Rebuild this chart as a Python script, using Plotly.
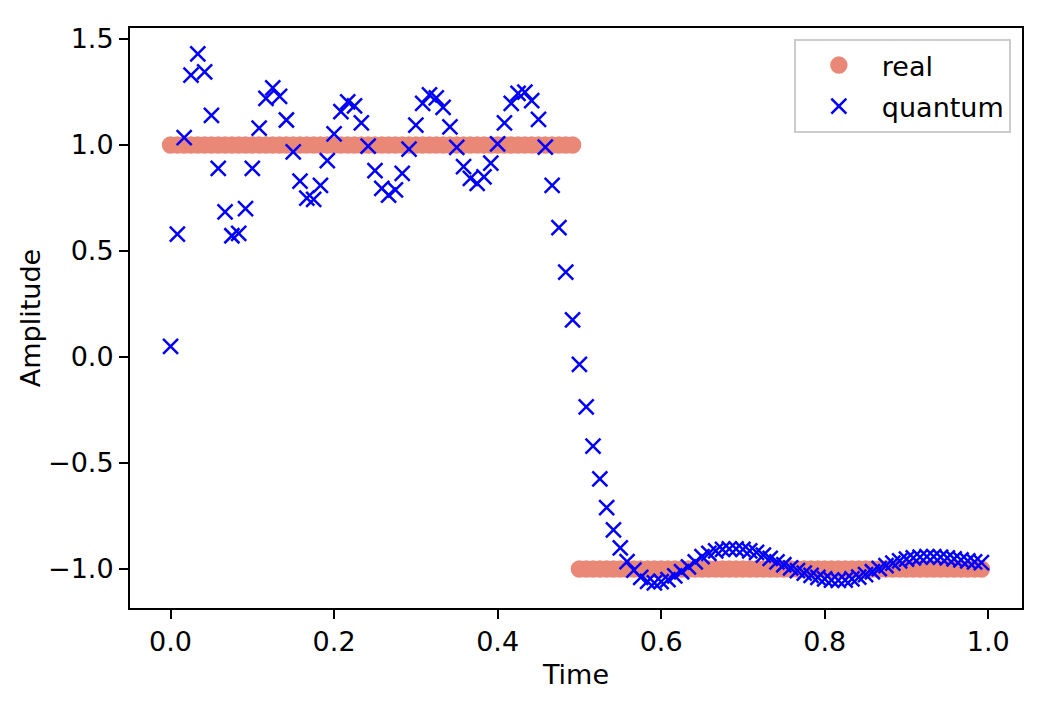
import plotly.graph_objects as go

# ---- data ----
n_samples = 120
time = [i / n_samples for i in range(n_samples)]

real = [1.0] * 60 + [-1.0] * 60

quantum = [
    0.05, 0.58, 1.035, 1.33, 1.43, 1.345, 1.14, 0.89, 0.685, 0.572,
    0.583, 0.70, 0.89, 1.08, 1.22, 1.27, 1.23, 1.118, 0.968, 0.83,
    0.75, 0.744, 0.81, 0.926, 1.053, 1.157, 1.204, 1.185, 1.105, 0.995,
    0.879, 0.796, 0.764, 0.788, 0.866, 0.981, 1.094, 1.197, 1.236, 1.222,
    1.178, 1.086, 0.989, 0.898, 0.843, 0.819, 0.85, 0.915, 1.005, 1.104,
    1.197, 1.244, 1.25, 1.209, 1.121, 0.99, 0.81, 0.61, 0.40, 0.175,
    -0.035, -0.235, -0.42, -0.575, -0.71, -0.815, -0.90, -0.965, -1.005, -1.04,
    -1.058, -1.065, -1.06, -1.05, -1.033, -1.013, -0.99, -0.966, -0.942, -0.926,
    -0.915, -0.908, -0.905, -0.905, -0.908, -0.915, -0.922, -0.935, -0.95, -0.966,
    -0.98, -0.995, -1.008, -1.02, -1.03, -1.04, -1.047, -1.052, -1.054, -1.052,
    -1.047, -1.038, -1.027, -1.013, -0.998, -0.984, -0.972, -0.962, -0.954, -0.948,
    -0.944, -0.942, -0.942, -0.944, -0.948, -0.952, -0.957, -0.962, -0.966, -0.97,
]

x_ticks = [0.0, 0.2, 0.4, 0.6, 0.8, 1.0]
x_ticklabels = ["0.0", "0.2", "0.4", "0.6", "0.8", "1.0"]
y_ticks = [1.5, 1.0, 0.5, 0.0, -0.5, -1.0]
y_ticklabels = ["1.5", "1.0", "0.5", "0.0", "\u22120.5", "\u22121.0"]

# ---- style ----
REAL_COLOR = "#EA8877"
QUANT_COLOR = "#0000FF"
FONT = "DejaVu Sans"
FS = 27

fig = go.Figure()
fig.add_trace(go.Scatter(
    x=time, y=real, mode="markers", name="real", legendgroup="a",
    marker=dict(symbol="circle", size=15, color=REAL_COLOR,
                line=dict(color=REAL_COLOR, width=2.5)),
))
fig.add_trace(go.Scatter(
    x=time, y=quantum, mode="markers", name="quantum", legendgroup="b",
    marker=dict(symbol="x-thin", size=15, color=QUANT_COLOR,
                line=dict(color=QUANT_COLOR, width=2.5)),
))

axis_common = dict(
    showline=True, linecolor="black", linewidth=2, mirror=True,
    ticks="outside", ticklen=9, tickwidth=2, tickcolor="black",
    showgrid=False, zeroline=False,
    tickfont=dict(family=FONT, size=FS, color="black"),
)

# the page body adds an 8px offset, so the figure is 8px smaller
fig.update_layout(
    width=1040, height=704,
    margin=dict(l=122, r=26, t=20, b=104),
    paper_bgcolor="white", plot_bgcolor="white",
    font=dict(family=FONT, size=FS, color="black"),
    xaxis=dict(range=[-0.0496, 1.0413], tickvals=x_ticks, ticktext=x_ticklabels,
               title=dict(text="Time", font=dict(family=FONT, size=FS), standoff=9),
               **axis_common),
    yaxis=dict(range=[-1.184, 1.552], tickvals=y_ticks, ticktext=y_ticklabels,
               title=dict(text="Amplitude", font=dict(family=FONT, size=FS), standoff=0),
               **axis_common),
    legend=dict(x=0.9875, y=0.981, xanchor="right", yanchor="top",
                bgcolor="rgba(255,255,255,0.8)", bordercolor="#CCCCCC", borderwidth=2,
                font=dict(family=FONT, size=FS, color="black"),
                tracegroupgap=3, itemwidth=76),
    showlegend=True,
)

fig.write_html("out.html")
